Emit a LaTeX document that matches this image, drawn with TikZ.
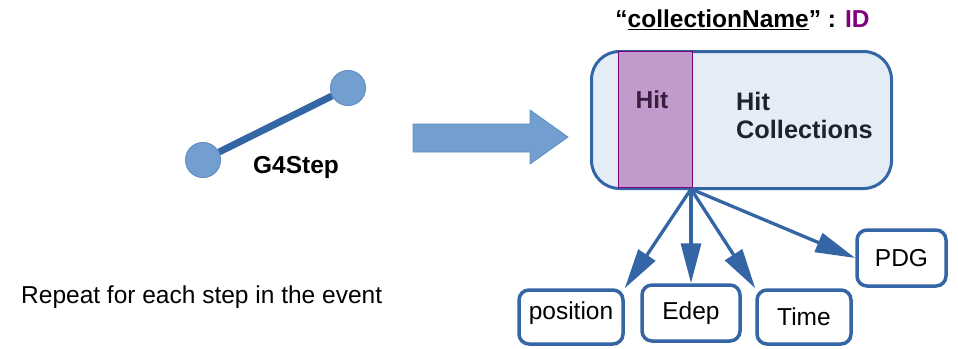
\documentclass[tikz,border=0pt]{standalone}
\usepackage{fontspec}
\setmainfont{Liberation Sans}
\usepackage{tikz}
\usetikzlibrary{arrows.meta}

\definecolor{hitblue}{HTML}{3465A4}
\definecolor{stepfill}{HTML}{729FCF}
\definecolor{stepedge}{HTML}{5F8DC4}
\definecolor{boxfill}{HTML}{E4ECF5}
\definecolor{stripfill}{HTML}{C09BCC}
\definecolor{idpurple}{HTML}{800080}
\definecolor{hittext}{HTML}{3A1F3D}
\definecolor{colltext}{HTML}{1C2230}

\tikzset{
	txt/.style={font=\fontsize{24.5pt}{28pt}\selectfont, inner sep=0pt},
	stepdot/.style={circle, fill=stepfill, draw=stepedge, line width=1pt, minimum size=35pt, inner sep=0pt},
	leaf/.style={txt, draw=hitblue, line width=3.5pt, rounded corners=10pt, fill=white},
	link/.style={hitblue, line width=3.3pt, -{Triangle[length=40pt, width=20pt]}},
}

\begin{document}
\begin{tikzpicture}[x=1pt, y=-1pt]
	\useasboundingbox (0,0) rectangle (958,348);

	% G4Step: zwei Punkte und die Verbindung
	\node[stepdot] (pre) at (203,160) {};
	\node[stepdot] (post) at (348,88) {};
	\draw[hitblue, line width=7pt] (pre) -- (post);
	\node[txt, font=\fontsize{24.5pt}{28pt}\selectfont\bfseries] (steplbl) at (296,167) {G4Step};

	% grosser Pfeil
	\fill[stepfill, draw=stepedge, line width=0.8pt] (413,124) -- (530,124) -- (530,110) -- (568,137)
		-- (530,164) -- (530,152) -- (413,152) -- cycle;

	\node[txt, anchor=base west] (repeat) at (21,303) {Repeat for each step in the event};

	% Hit Collection Box
	\node[txt, font=\fontsize{24.5pt}{28pt}\selectfont\bfseries] (title) at (742.5,20)
		{“\underline{collectionName}” : \textcolor{idpurple}{ID}};
	\node[draw=hitblue, fill=boxfill, line width=3pt, rounded corners=28pt,
		minimum width=300pt, minimum height=137pt] (collbox) at (741.5,120) {};
	\node[fill=stripfill, draw=idpurple, line width=0.8pt, minimum width=74pt, minimum height=136pt,
		inner sep=0pt] (hitstrip) at (655,119.5) {};
	\node[txt, font=\fontsize{24.5pt}{28pt}\selectfont\bfseries, text=hittext] (hitlbl) at (652,100) {Hit};
	\node[txt, font=\fontsize{25.3pt}{28pt}\selectfont\bfseries, text=colltext, align=left, anchor=west]
		(colllbl) at (736,115) {Hit\\Collections};

	% Eintraege eines Hits
	\node[leaf, minimum width=104pt, minimum height=54pt] (pos) at (571,317) {\raisebox{12pt}{position}};
	\node[leaf, minimum width=98pt, minimum height=56pt] (edep) at (691,313) {Edep};
	\node[leaf, minimum width=94pt, minimum height=54pt] (time) at (804,317) {\raisebox{-3pt}{Time}};
	\node[leaf, minimum width=89pt, minimum height=56pt] (pdg) at (901.5,258) {PDG};

	\coordinate (src) at (691,189);
	\foreach \t/\a in {pos/north east, edep/north, time/north west, pdg/west}
		\draw[link] (src) -- (\t.\a);
\end{tikzpicture}
\end{document}
